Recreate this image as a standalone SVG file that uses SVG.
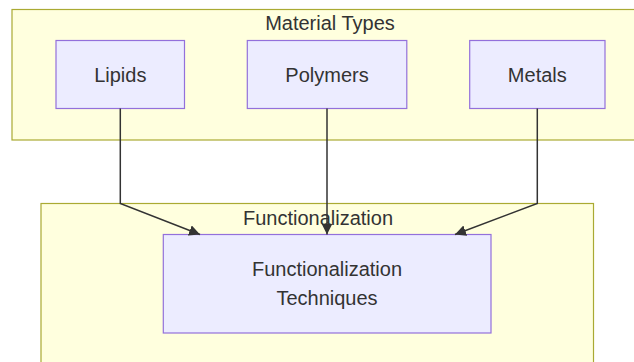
<svg xmlns="http://www.w3.org/2000/svg" width="634" height="362" viewBox="0 0 634 362">
  <style>
    .cluster { fill: #ffffde; stroke: #aaaa33; stroke-width: 1.2; }
    .node { fill: #ececff; stroke: #9370db; stroke-width: 1.2; }
    .label { font-family: "Liberation Sans", Arial, sans-serif; font-size: 20px; fill: #333333; text-anchor: middle; }
    .edge { fill: none; stroke: #333333; stroke-width: 1.5; }
  </style>
  <defs>
    <marker id="arrow" markerUnits="userSpaceOnUse" viewBox="0 0 10 10" refX="10" refY="5" markerWidth="11" markerHeight="11" orient="auto">
      <path d="M0,0 L10,5 L0,10 z" fill="#333333"/>
    </marker>
  </defs>
  <rect width="634" height="362" fill="#ffffff"/>

  <g id="cluster-material-types">
    <rect class="cluster" x="12" y="9.5" width="636" height="130.5"/>
    <text class="label" x="330" y="30">Material Types</text>
  </g>
  <g id="cluster-functionalization">
    <rect class="cluster" x="41" y="203.5" width="552.5" height="170"/>
    <text class="label" x="318" y="225">Functionalization</text>
  </g>

  <g id="node-lipids">
    <rect class="node" x="56" y="40.5" width="128.5" height="68"/>
    <text class="label" x="120.3" y="81.5">Lipids</text>
  </g>
  <g id="node-polymers">
    <rect class="node" x="247.3" y="40.5" width="159.5" height="68"/>
    <text class="label" x="327" y="81.5">Polymers</text>
  </g>
  <g id="node-metals">
    <rect class="node" x="469.7" y="40.5" width="135.3" height="68"/>
    <text class="label" x="537.3" y="81.5">Metals</text>
  </g>
  <g id="node-techniques">
    <rect class="node" x="163.3" y="234.5" width="327.7" height="98.5"/>
    <text class="label" x="327" y="276">Functionalization</text>
    <text class="label" x="327" y="305">Techniques</text>
  </g>

  <g id="connectors">
    <path class="edge" d="M120.3,108.5 L120.3,203.5 L200,234.5" marker-end="url(#arrow)"/>
    <path class="edge" d="M327,108.5 L327,234.5" marker-end="url(#arrow)"/>
    <path class="edge" d="M537.3,108.5 L537.3,203.5 L455,234.5" marker-end="url(#arrow)"/>
  </g>
</svg>
